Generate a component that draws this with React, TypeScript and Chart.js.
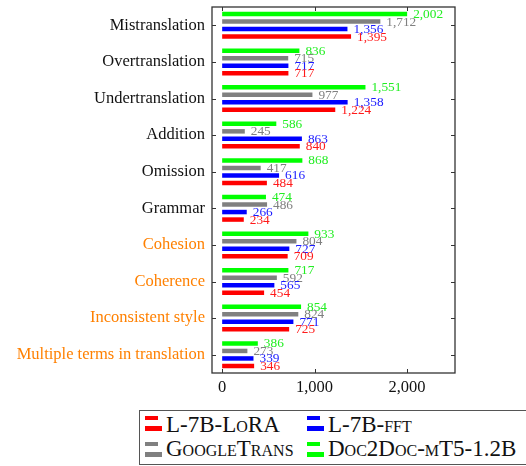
import React, { useEffect, useRef } from "react";
import { Chart, registerables } from "chart.js";

Chart.register(...registerables);

const categories = [
  "Mistranslation",
  "Overtranslation",
  "Undertranslation",
  "Addition",
  "Omission",
  "Grammar",
  "Cohesion",
  "Coherence",
  "Inconsistent style",
  "Multiple terms in translation",
];
const categoryColors = [
  "#111111", "#111111", "#111111", "#111111", "#111111", "#111111",
  "#ff8000", "#ff8000", "#ff8000", "#ff8000",
];

const doc2docValues = [2002, 836, 1551, 586, 868, 474, 933, 717, 854, 386];
const googleTransValues = [1712, 715, 977, 245, 417, 486, 804, 592, 824, 273];
const fftValues = [1356, 717, 1358, 863, 616, 266, 727, 565, 771, 339];
const loraValues = [1395, 717, 1224, 840, 484, 234, 709, 454, 725, 346];

const xTickValues = [0, 1000, 2000];

const seriesNames = ["Doc2Doc-mT5-1.2B", "GoogleTrans", "L-7B-fft", "L-7B-LoRA"];
const seriesColors = ["#00ff00", "#808080", "#0000ff", "#ff0000"];
const seriesLabelColors = ["#22ee22", "#808080", "#1a1aff", "#ff1a1a"];
const seriesValues = [doc2docValues, googleTransValues, fftValues, loraValues];

// legend order: LoRA, FFT / GoogleTrans, Doc2Doc
const legendOrder = [3, 2, 1, 0];

const SERIF = "'Liberation Serif', 'Times New Roman', serif";

const fmt = (v: number) => Number(v).toLocaleString("en-US");

const valueLabelPlugin = {
  id: "valueLabels",
  afterDatasetsDraw(chart: any) {
    const ctx = chart.ctx;
    ctx.save();
    ctx.font = `13.3px ${SERIF}`;
    ctx.textAlign = "left";
    ctx.textBaseline = "middle";
    chart.data.datasets.forEach((ds: any, i: number) => {
      const meta = chart.getDatasetMeta(i);
      meta.data.forEach((el: any, j: number) => {
        ctx.fillStyle = seriesLabelColors[i];
        ctx.fillText(fmt(ds.data[j]), el.x + 6, el.y + 0.5);
      });
    });
    ctx.restore();
  },
};

const framePlugin = {
  id: "frame",
  afterDraw(chart: any) {
    const ctx = chart.ctx;
    const a = chart.chartArea;
    const xs = chart.scales.x;
    const ys = chart.scales.y;
    ctx.save();
    ctx.strokeStyle = "#333333";
    ctx.lineWidth = 1.3;
    ctx.strokeRect(a.left, a.top, a.right - a.left, a.bottom - a.top);
    ctx.lineWidth = 1;
    ctx.beginPath();
    xTickValues.forEach((v) => {
      const px = Math.round(xs.getPixelForValue(v)) + 0.5;
      ctx.moveTo(px, a.bottom);
      ctx.lineTo(px, a.bottom - 4);
      ctx.moveTo(px, a.top);
      ctx.lineTo(px, a.top + 4);
    });
    categories.forEach((_, i) => {
      const py = Math.round(ys.getPixelForValue(i)) + 0.5;
      ctx.moveTo(a.left, py);
      ctx.lineTo(a.left + 4, py);
      ctx.moveTo(a.right, py);
      ctx.lineTo(a.right - 4, py);
    });
    ctx.stroke();
    ctx.restore();
  },
};

function LegendSymbol({ color, left, top }: { color: string; left: number; top: number }) {
  return (
    <>
      <div style={{ position: "absolute", left, top, width: 13, height: 4, background: color }} />
      <div style={{ position: "absolute", left, top: top + 10, width: 17, height: 5, background: color }} />
    </>
  );
}

export default function App() {
  const canvasRef = useRef<HTMLCanvasElement | null>(null);

  useEffect(() => {
    if (!canvasRef.current) return;
    const chart = new Chart(canvasRef.current, {
      type: "bar",
      data: {
        labels: categories,
        datasets: seriesValues.map((vals, i) => ({
          label: seriesNames[i],
          data: vals,
          backgroundColor: seriesColors[i],
          borderWidth: 0,
          categoryPercentage: 0.82,
          barPercentage: 0.6,
        })),
      },
      options: {
        responsive: false,
        animation: false,
        indexAxis: "y",
        layout: { padding: { top: 7, right: 71, left: 0, bottom: 0 } },
        plugins: {
          legend: { display: false },
          tooltip: { enabled: false },
        },
        scales: {
          x: {
            type: "linear",
            min: -110,
            max: 2520,
            afterBuildTicks: (s: any) => {
              s.ticks = xTickValues.map((v) => ({ value: v }));
            },
            afterFit: (s: any) => {
              s.height = 37;
              s.paddingLeft = 0;
              s.paddingRight = 0;
            },
            ticks: {
              font: { family: SERIF, size: 16.5 },
              color: "#111111",
              padding: 5,
              callback: (v: any) => fmt(v),
            },
            grid: { display: false, drawTicks: false },
            border: { display: false },
          },
          y: {
            afterFit: (s: any) => {
              s.width = 212;
              s.paddingTop = 0;
              s.paddingBottom = 0;
            },
            ticks: {
              autoSkip: false,
              font: { family: SERIF, size: 16.5 },
              color: (c: any) => categoryColors[c.index],
              padding: 7,
            },
            grid: { display: false, drawTicks: false },
            border: { display: false },
          },
        },
      } as any,
      plugins: [valueLabelPlugin, framePlugin],
    });
    return () => chart.destroy();
  }, []);

  const textStyle: React.CSSProperties = {
    position: "absolute",
    fontFamily: SERIF,
    fontSize: 23,
    lineHeight: "23px",
    fontVariant: "small-caps",
    color: "#111111",
    whiteSpace: "nowrap",
  };
  const cols = [
    { sym: 5, text: 26 },
    { sym: 167, text: 188 },
  ];
  const rows = [
    { sym: 5, text: 2 },
    { sym: 31, text: 26 },
  ];

  return (
    <div
      style={{
        position: "fixed",
        left: 0,
        top: 0,
        width: 526,
        height: 466,
        overflow: "hidden",
        background: "#ffffff",
      }}
    >
      <canvas ref={canvasRef} width={526} height={410} style={{ display: "block" }} />
      <div
        style={{
          position: "absolute",
          left: 139,
          top: 410,
          width: 420,
          height: 53,
          border: "1px solid #555555",
          background: "#ffffff",
        }}
      >
        {legendOrder.map((si, k) => {
          const c = cols[k % 2];
          const r = rows[Math.floor(k / 2)];
          return (
            <React.Fragment key={si}>
              <LegendSymbol color={seriesColors[si]} left={c.sym} top={r.sym} />
              <span style={{ ...textStyle, left: c.text, top: r.text }}>{seriesNames[si]}</span>
            </React.Fragment>
          );
        })}
      </div>
    </div>
  );
}
